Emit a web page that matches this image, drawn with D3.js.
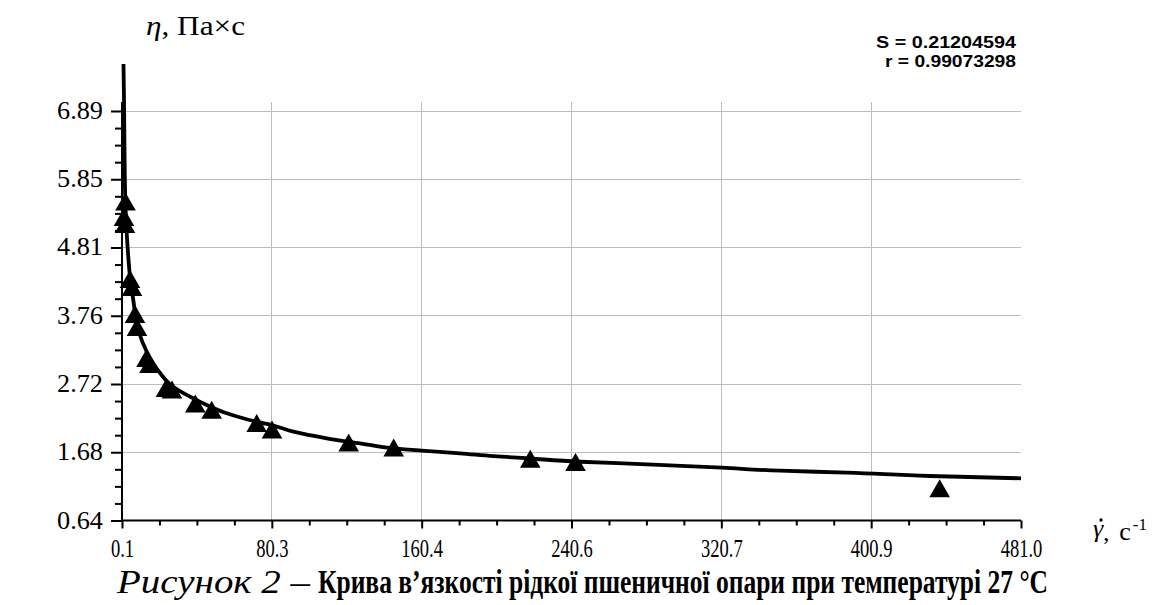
<!DOCTYPE html>
<html>
<head>
<meta charset="utf-8">
<script src="https://cdn.jsdelivr.net/npm/d3@7/dist/d3.min.js"></script>
<style>
  html, body { margin: 0; padding: 0; background: #fff; }
  svg { display: block; }
</style>
</head>
<body>
<svg id="chart" width="1167" height="605"></svg>
<script>
// ---- data ----
const pointShear = [1.97, 1.17, 1.70, 4.38, 5.45, 7.06, 8.12, 13.21, 14.81, 23.64, 26.85, 39.31, 48.08, 72.15, 80.34, 121.37, 145.44, 218.5, 242.7, 437.5];
const pointVisc  = [5.509, 5.272, 5.165, 4.326, 4.204, 3.792, 3.593, 3.120, 3.029, 2.662, 2.639, 2.426, 2.330, 2.128, 2.029, 1.830, 1.754, 1.582, 1.533, 1.131];

const curveShear = [0.90, 1.17, 1.44, 1.87, 2.61, 3.47, 4.38, 6.14, 8.82, 13.31, 20.43, 27.38, 36.48, 45.41, 56.11, 66.81, 81.04, 91.74, 109.6, 127.4, 145.2, 160.4, 180.9, 198.7, 218.4, 245.1, 280.8, 320.9, 352.1, 387.8, 432.3, 481.0];
const curveVisc  = [7.607, 7.058, 6.295, 5.532, 5.028, 4.662, 4.357, 4.006, 3.548, 3.217, 2.891, 2.682, 2.530, 2.403, 2.276, 2.185, 2.090, 1.995, 1.895, 1.818, 1.742, 1.708, 1.666, 1.624, 1.586, 1.537, 1.498, 1.446, 1.400, 1.370, 1.319, 1.284];

const xTickValues = [0.1, 80.25, 160.4, 240.55, 320.7, 400.85, 481.0];
const xTickLabels = ["0.1", "80.3", "160.4", "240.6", "320.7", "400.9", "481.0"];
const yTickValues = [0.64, 1.6817, 2.7233, 3.765, 4.8067, 5.8483, 6.89];
const yTickLabels = ["0.64", "1.68", "2.72", "3.76", "4.81", "5.85", "6.89"];

const statLines = ["S = 0.21204594", "r = 0.99073298"];
const yTitle = ["\u03B7", ", \u041F\u0430\u00D7\u0441"];
const captionItalic = "\u0420\u0438\u0441\u0443\u043D\u043E\u043A 2 \u2013";
const captionBold = "\u041A\u0440\u0438\u0432\u0430 \u0432\u2019\u044F\u0437\u043A\u043E\u0441\u0442\u0456 \u0440\u0456\u0434\u043A\u043E\u0457 \u043F\u0448\u0435\u043D\u0438\u0447\u043D\u043E\u0457 \u043E\u043F\u0430\u0440\u0438 \u043F\u0440\u0438 \u0442\u0435\u043C\u043F\u0435\u0440\u0430\u0442\u0443\u0440\u0456 27 \u00B0\u0421";

// ---- layout ----
const svg = d3.select("#chart");
const X0 = 122, X1 = 1021, Y0 = 520.5, Y1 = 111, YTOP = 102;
const serif = "Liberation Serif";
const sans = "Liberation Sans";

const x = d3.scaleLinear().domain([0.1, 481.0]).range([X0, X1]);
const y = d3.scaleLinear().domain([0.64, 6.89]).range([Y0, Y1]);

svg.append("rect").attr("width", 1167).attr("height", 605).attr("fill", "#fff");

// grid
const grid = svg.append("g").attr("stroke", "#bdbdbd").attr("stroke-width", 1).attr("shape-rendering", "crispEdges");
grid.selectAll("line.h").data(yTickValues.slice(1)).join("line")
  .attr("x1", X0).attr("x2", X1).attr("y1", d => y(d)).attr("y2", d => y(d));
grid.selectAll("line.v").data(xTickValues.slice(1, -1)).join("line")
  .attr("y1", YTOP).attr("y2", Y0).attr("x1", d => x(d)).attr("x2", d => x(d));

// minor ticks
function minors(vals) {
  const out = [];
  for (let i = 0; i < vals.length - 1; i++) {
    const s = (vals[i + 1] - vals[i]) / 4;
    for (let k = 1; k < 4; k++) out.push(vals[i] + k * s);
  }
  return out;
}

const yMinor = svg.append("g").attr("transform", `translate(${X0},0)`)
  .call(d3.axisLeft(y).tickValues(minors(yTickValues)).tickSize(7).tickSizeOuter(0).tickFormat(""));
const yMajor = svg.append("g").attr("transform", `translate(${X0},0)`)
  .call(d3.axisLeft(y).tickValues(yTickValues).tickSize(11).tickSizeOuter(0).tickPadding(8)
    .tickFormat((d, i) => yTickLabels[i]));
const xMinor = svg.append("g").attr("transform", `translate(0,${Y0})`)
  .call(d3.axisBottom(x).tickValues(minors(xTickValues)).tickSize(5).tickSizeOuter(0).tickFormat(""));
const xMajor = svg.append("g").attr("transform", `translate(0,${Y0})`)
  .call(d3.axisBottom(x).tickValues(xTickValues).tickSize(8).tickSizeOuter(0).tickPadding(11)
    .tickFormat((d, i) => xTickLabels[i]));

[yMinor, yMajor, xMinor, xMajor].forEach(g => {
  g.attr("font-family", null).attr("font-size", null);
  g.select(".domain").remove();
  g.selectAll(".tick line").attr("stroke", "#000").attr("stroke-width", 2);
});
yMajor.selectAll(".tick text").style("font-family", serif).style("font-size", "25px").attr("fill", "#000")
  .attr("dy", "0.3em").attr("textLength", 46).attr("lengthAdjust", "spacingAndGlyphs");
xMajor.selectAll(".tick text").style("font-family", serif).style("font-size", "25px").attr("fill", "#000")
  .each(function () {
    const t = d3.select(this);
    const w = this.getComputedTextLength();
    t.attr("textLength", w * 0.74).attr("lengthAdjust", "spacingAndGlyphs");
  });

// axis lines
svg.append("line").attr("x1", X0).attr("x2", X0).attr("y1", YTOP).attr("y2", Y0 + 1)
  .attr("stroke", "#000").attr("stroke-width", 2);
svg.append("line").attr("x1", X0 - 1).attr("x2", X1).attr("y1", Y0).attr("y2", Y0)
  .attr("stroke", "#000").attr("stroke-width", 2);

// fitted curve
const curveData = curveShear.map((v, i) => [v, curveVisc[i]]);
svg.append("path").datum(curveData)
  .attr("fill", "none").attr("stroke", "#000").attr("stroke-width", 3.8).attr("stroke-linejoin", "round")
  .attr("d", d3.line().x(d => x(d[0])).y(d => y(d[1])).curve(d3.curveMonotoneY));

// points
const pts = pointShear.map((v, i) => [v, pointVisc[i]]);
svg.append("g").selectAll("path").data(pts).join("path")
  .attr("transform", d => `translate(${x(d[0])},${y(d[1])})`)
  .attr("d", "M0,-9L10.3,9L-10.3,9Z")
  .attr("fill", "#000");

// y title
const yt = svg.append("text").attr("x", 146).attr("y", 34.5)
  .style("font-family", serif).style("font-size", "27px").attr("fill", "#000")
  .attr("textLength", 99).attr("lengthAdjust", "spacingAndGlyphs");
yt.append("tspan").attr("font-style", "italic").text(yTitle[0]);
yt.append("tspan").text(yTitle[1]);

// stats
svg.selectAll("text.stat").data(statLines).join("text").attr("class", "stat")
  .attr("x", 1016).attr("y", (d, i) => 48.3 + i * 19)
  .attr("text-anchor", "end")
  .style("font-family", sans).attr("font-weight", "bold").style("font-size", "16px").attr("fill", "#000")
  .attr("textLength", (d, i) => i === 0 ? 140 : 131).attr("lengthAdjust", "spacingAndGlyphs")
  .text(d => d);

// x title: gamma (with derivative dot), c^-1
const xt = svg.append("text").attr("x", 1093).attr("y", 537).attr("fill", "#000")
  .style("font-family", serif).style("font-size", "26px");
xt.append("tspan").attr("font-style", "italic").text("\u03B3");
xt.append("tspan").attr("dy", 3).style("font-size", "24px").text(",");
xt.append("tspan").attr("dx", 10).attr("dy", 0).text("\u0441");
xt.append("tspan").attr("dx", 2).attr("dy", -10).style("font-size", "17px").text("-1");
svg.append("circle").attr("cx", 1101).attr("cy", 520).attr("r", 1.7).attr("fill", "#000");

// caption (drawn at a smaller size and stretched vertically to the picture's proportions)
svg.append("text").attr("transform", "translate(117,593) scale(1,1.3)")
  .style("font-family", serif).attr("font-style", "italic").style("font-size", "26px").attr("fill", "#000")
  .attr("textLength", 193).attr("lengthAdjust", "spacingAndGlyphs").text(captionItalic);
svg.append("text").attr("transform", "translate(318,593) scale(1,1.3)")
  .style("font-family", serif).attr("font-weight", "bold").style("font-size", "26px").attr("fill", "#000")
  .attr("textLength", 730).attr("lengthAdjust", "spacingAndGlyphs").text(captionBold);
</script>
</body>
</html>
